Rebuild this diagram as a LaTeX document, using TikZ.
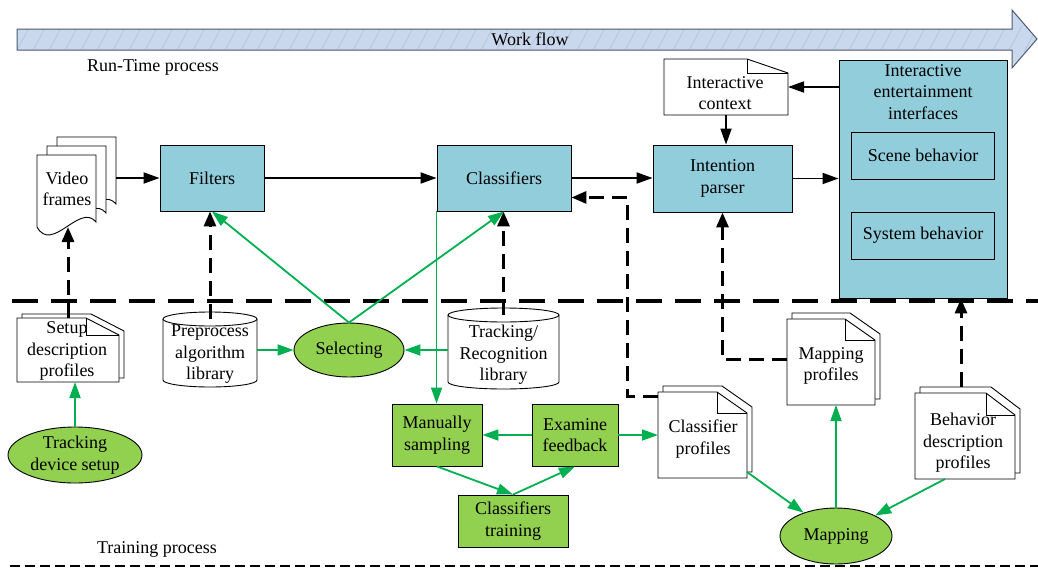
\documentclass[tikz,border=0pt]{standalone}
\usepackage{fontspec}
\setmainfont{Liberation Serif}
\usetikzlibrary{arrows.meta,shapes.geometric,calc}

\definecolor{boxblue}{HTML}{92CDDC}
\definecolor{boxgreen}{HTML}{92D050}
\definecolor{linegreen}{HTML}{00B050}
\definecolor{flowfill}{HTML}{C9D8EC}
\definecolor{flowhatch}{HTML}{B4C7DF}
\definecolor{flowedge}{HTML}{4D5B6E}

% dog-eared page outline around a node, shifted by (#4,#5)
\newcommand\pageoutline[5]{%
  ($(#1.north west)+(#4,#5)$) -- ($(#1.north east)+(#4-#2,#5)$) --
  ($(#1.north east)+(#4,#5+#3)$) -- ($(#1.south east)+(#4,#5)$) --
  ($(#1.south west)+(#4,#5)$) -- cycle}
% inner fold lines of the dog-ear
\newcommand\pagefold[3]{%
  ($(#1.north east)+(-#2,0)$) -- ($(#1.north east)+(-#2,#3)$) -- ($(#1.north east)+(0,#3)$)}
% page with a wavy lower edge, shifted by (#2,#3)
\newcommand\wavepage[3]{%
  ($(#1.north west)+(#2,#3)$) -- ($(#1.north east)+(#2,#3)$) --
  ($(#1.south east)+(#2,#3)$) .. controls ($(#1.south east)+(#2-16,#3-20)$)
  and ($(#1.south west)+(#2+15,#3+32)$) .. ($(#1.south west)+(#2,#3+5)$) -- cycle}
% cylinder drawn round its body node (#2 = half width)
\newcommand\cylinder[2]{%
  \draw[shapeline,fill=white] ($(#1.north west)+(0,-7)$) -- ($(#1.south west)+(0,-7)$)
    arc[start angle=180,end angle=0,x radius=#2,y radius=7] -- ($(#1.north east)+(0,-7)$);
  \draw[shapeline,fill=white] ($(#1.north)+(0,-7)$) ellipse[x radius=#2,y radius=7];}

\begin{document}
\begin{tikzpicture}[x=1pt,y=-1pt,font=\fontsize{18}{21.5}\selectfont,
  shapeline/.style={line width=0.9pt},
  box/.style={draw,shapeline,align=center,inner sep=0pt},
  bluebox/.style={box,fill=boxblue},
  greenbox/.style={box,fill=boxgreen},
  greenell/.style={ellipse,draw,shapeline,fill=boxgreen,align=center,inner sep=0pt},
  geom/.style={inner sep=0pt,outer sep=0pt},
  txt/.style={align=center,inner sep=0pt},
  arr/.style={line width=1.8pt,-{Triangle[length=16pt,width=11pt]}},
  darr/.style={line width=3pt,dash pattern=on 15pt off 8pt,-{Triangle[length=15pt,width=12pt]}},
  garr/.style={draw=linegreen,line width=1.8pt,-{Triangle[length=16pt,width=11pt]}}]

\useasboundingbox (0,0) rectangle (1038,568);

% ---- work flow arrow ----
\begin{scope}
  \clip (17,29) -- (1012,29) -- (1012,10) -- (1037,39) -- (1012,68) -- (1012,50) -- (17,50) -- cycle;
  \fill[flowfill] (0,0) rectangle (1038,70);
  \foreach \i in {0,16,...,1040} \draw[flowhatch,line width=0.8pt] (\i,52) -- (\i+14,26);
\end{scope}
\draw[flowedge,line width=1pt] (17,29) -- (1012,29) -- (1012,10) -- (1037,39) -- (1012,68) -- (1012,50) -- (17,50) -- cycle;
\node[txt] (wf) at (530,39) {Work flow};

\node[txt] (rtp) at (153,67) {Run-Time process};
\node[txt] (trp) at (157,549) {Training process};

% ---- phase separators ----
\draw[line width=4.5pt,dash pattern=on 26pt off 13pt] (12,301) -- (1038,301);
\draw[line width=1.3pt,dash pattern=on 10pt off 5pt] (10,566) -- (1038,566);

% ---- run-time nodes ----
\node[bluebox,minimum width=104pt,minimum height=66pt] (filt) at (212,178) {Filters};
\node[bluebox,minimum width=134pt,minimum height=66pt] (cls) at (504,178) {Classifiers};
\node[bluebox,minimum width=139pt,minimum height=67pt] (par) at (722.5,178.5) {Intention\\parser};
\node[bluebox,minimum width=168pt,minimum height=238pt] (iei) at (923,179) {};
\node[txt] (ieit) at (923,92) {Interactive\\entertainment\\interfaces};
\node[bluebox,minimum width=143pt,minimum height=47pt] (scene) at (923,155.5) {Scene behavior};
\node[bluebox,minimum width=143pt,minimum height=47pt] (sysb) at (923,235.5) {System behavior};

% interactive context page
\node[geom,minimum width=124pt,minimum height=56pt] (ictx) at (726,87) {};
\draw[shapeline,fill=white] \pageoutline{ictx}{41}{14}{0}{0};
\draw[shapeline] \pagefold{ictx}{41}{14};
\node[txt] (ictxt) at (725,93) {Interactive\\context};

% video frames stack
\node[geom,minimum width=59pt,minimum height=67pt] (video) at (66.5,188.5) {};
\draw[shapeline,fill=white] \wavepage{video}{20}{-18};
\draw[shapeline,fill=white] \wavepage{video}{10}{-9};
\draw[shapeline,fill=white] \wavepage{video}{0}{0};
\node[txt] (videot) at (67,189) {Video\\frames};

% ---- training nodes ----
\node[geom,minimum width=102pt,minimum height=64pt] (setup) at (68,350) {};
\draw[shapeline,fill=white] \pageoutline{setup}{33}{17}{5}{-4};
\draw[shapeline,fill=white] \pageoutline{setup}{33}{17}{0}{0};
\draw[shapeline] \pagefold{setup}{33}{17};
\node[txt] (setupt) at (67,351) {Setup\\description\\profiles};

\node[geom,minimum width=94pt,minimum height=61pt] (pre) at (210,356.5) {};
\cylinder{pre}{47}
\node[txt] (pret) at (210,354.5) {Preprocess\\algorithm\\library};

\node[geom,minimum width=111pt,minimum height=67pt] (trk) at (503.5,355.5) {};
\cylinder{trk}{55.5}
\node[txt] (trkt) at (503.5,355) {Tracking/\\Recognition\\library};

\node[greenell,minimum width=110pt,minimum height=54pt] (sel) at (349,350) {Selecting};
\node[greenell,minimum width=134pt,minimum height=56pt] (tds) at (75,455) {Tracking\\device setup};
\node[greenell,minimum width=112pt,minimum height=56pt] (map) at (836,536) {Mapping};

\node[greenbox,minimum width=90pt,minimum height=62pt] (man) at (437,435) {Manually\\sampling};
\node[greenbox,minimum width=86pt,minimum height=62pt] (exam) at (575,435) {Examine\\feedback};
\node[greenbox,minimum width=110pt,minimum height=52pt] (train) at (513,521) {Classifiers\\training};

\node[geom,minimum width=89pt,minimum height=86pt] (cprof) at (702.5,435) {};
\draw[shapeline,fill=white] \pageoutline{cprof}{30}{21}{5}{-6};
\draw[shapeline,fill=white] \pageoutline{cprof}{30}{21}{0}{0};
\draw[shapeline] \pagefold{cprof}{30}{21};
\node[txt] (cproft) at (703,439) {Classifier\\profiles};

\node[geom,minimum width=88pt,minimum height=86pt] (mprof) at (831,362) {};
\draw[shapeline,fill=white] \pageoutline{mprof}{30}{21}{5}{-6};
\draw[shapeline,fill=white] \pageoutline{mprof}{30}{21}{0}{0};
\draw[shapeline] \pagefold{mprof}{30}{21};
\node[txt] (mproft) at (831,366) {Mapping\\profiles};

\node[geom,minimum width=100pt,minimum height=86pt] (bprof) at (965,436) {};
\draw[shapeline,fill=white] \pageoutline{bprof}{29}{22}{5}{-6};
\draw[shapeline,fill=white] \pageoutline{bprof}{29}{22}{0}{0};
\draw[shapeline] \pagefold{bprof}{29}{22};
\node[txt] (bproft) at (963,443) {Behavior\\description\\profiles};

% ---- run-time flow ----
\draw[arr] ($(video.north east)+(20,23)$) -- (filt.west);
\draw[arr] (filt.east) -- (cls.west);
\draw[arr] (cls.east) -- (cls.east -| par.west);
\draw[arr] (par.east) -- (par.east -| iei.west);
\draw[arr] (ictx.east -| iei.west) -- (ictx.east);
\draw[arr] (ictx.south) -- (ictx.south |- par.north);

% ---- profiles feeding the run-time ----
\draw[darr] (setup.north) -- ($(setup.north |- video.south)+(0,5)$);
\draw[darr] ($(pre.north)+(0,-7)$) -- (pre.north |- filt.south);
\draw[darr] ($(trk.north)+(0,-7)$) -- (trk.north |- cls.south);
\draw[darr] ($(cprof.north west)+(0,4)$) -- ++(-31,0) |- ([yshift=14pt]cls.south east);
\draw[darr] ($(mprof.west)+(0,-3)$) -| (par.south);
\draw[darr] ($(bprof.north)+(-4,-6)$) -- ($(bprof.north |- iei.south)+(-4,0)$);

% ---- training flow ----
\draw[garr] (sel.north) -- (filt.south);
\draw[garr] (sel.north) -- (cls.south);
\draw[garr] (pre.east |- sel.west) -- (sel.west);
\draw[garr] (trk.west |- sel.east) -- (sel.east);
\draw[garr] (cls.south west) -- (cls.south west |- man.north);
\draw[garr] (tds.north) -- (tds.north |- setup.south);
\draw[garr] (exam.west) -- (man.east);
\draw[garr] (exam.east) -- (exam.east -| cprof.west);
\draw[garr] (man.south) -- (train.north);
\draw[garr] (train.north) -- (exam.south);
\draw[garr] ($(cprof.south east)+(0,-6)$) -- (map);
\draw[garr] (map.north) -- (map.north |- mprof.south);
\draw[garr] ($(bprof.south west)+(30,0)$) -- (map);

\end{tikzpicture}
\end{document}
